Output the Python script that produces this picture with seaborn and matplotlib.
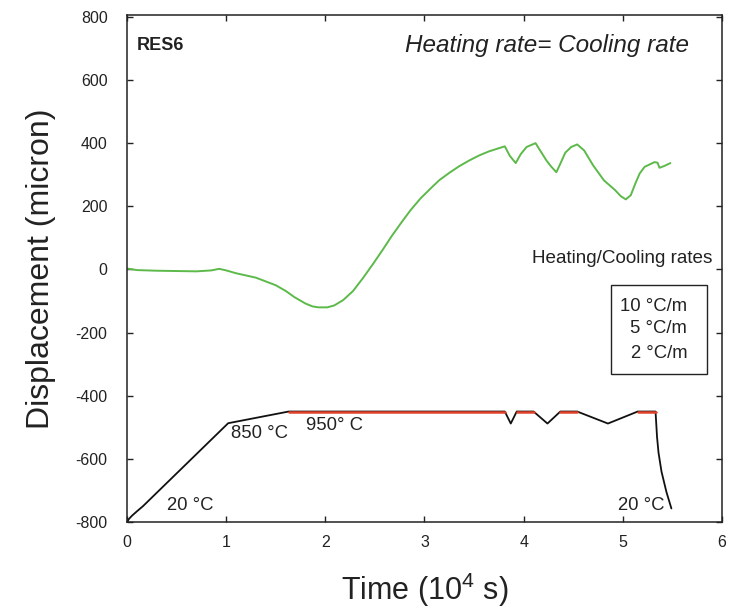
import matplotlib
matplotlib.use("Agg")
import matplotlib.pyplot as plt
import numpy as np
import pandas as pd
import seaborn as sns
from matplotlib.patches import Rectangle

# Measured displacement of sample RES6 (time in 1e4 s, displacement in micron)
time_disp = [0.00, 0.10, 0.30, 0.50, 0.70, 0.85, 0.93, 1.00, 1.10, 1.30,
             1.50, 1.60, 1.69, 1.80, 1.87, 1.93, 2.02, 2.09, 2.18, 2.28,
             2.38, 2.48, 2.58, 2.67, 2.77, 2.86, 2.96, 3.06, 3.15, 3.25,
             3.35, 3.45, 3.55, 3.65, 3.81, 3.86, 3.92, 3.97, 4.03, 4.12,
             4.17, 4.23, 4.28, 4.33, 4.37, 4.42, 4.48, 4.54, 4.61, 4.70,
             4.81, 4.92, 4.98, 5.03, 5.08, 5.13, 5.17, 5.22, 5.32, 5.35,
             5.37, 5.42, 5.48]
displacement = [3, -2, -4, -5, -6, -3, 2, -3, -12, -26,
                -50, -68, -88, -108, -117, -120, -120, -114, -97, -68,
                -27, 17, 63, 106, 150, 188, 225, 256, 283, 306,
                327, 345, 361, 374, 390, 360, 337, 365, 388, 400,
                375, 345, 325, 308, 335, 370, 388, 396, 377, 330,
                282, 252, 232, 222, 235, 275, 304, 325, 340, 338,
                322, 328, 337]

# Schematic temperature programme drawn on the same axis
time_prog = [0.00, 0.02, 0.05, 0.10, 0.16, 1.02, 1.63, 3.81, 3.87, 3.93,
             4.10, 4.24, 4.37, 4.54, 4.85, 5.15, 5.33, 5.345, 5.36, 5.39,
             5.44, 5.49]
prog_level = [-800, -790, -780, -766, -750, -487, -450, -450, -488, -450,
              -450, -488, -450, -450, -488, -450, -450, -530, -580, -640,
              -705, -757]

# Isothermal dwell segments at 950 C
dwell_start = [1.63, 3.93, 4.37, 5.15]
dwell_end = [3.81, 4.10, 4.54, 5.33]
dwell_level = -450

rate_labels = ["10 °C/m", "5 °C/m", "2 °C/m"]

sns.set_theme(style="ticks")
plt.rcParams["font.family"] = ["Liberation Sans", "DejaVu Sans"]
plt.rcParams["axes.unicode_minus"] = False
plt.rcParams["mathtext.fontset"] = "custom"
plt.rcParams["mathtext.rm"] = "Liberation Sans"

fig = plt.figure(figsize=(7.3, 6.12), dpi=100)
ax = fig.add_axes([0.174, 0.147, 0.815, 0.828])

df_disp = pd.DataFrame({"t": time_disp, "d": displacement})
sns.lineplot(data=df_disp, x="t", y="d", sort=False, estimator=None,
             color="#5cb94a", linewidth=1.4, ax=ax)

df_prog = pd.DataFrame({"t": time_prog, "d": prog_level})
sns.lineplot(data=df_prog, x="t", y="d", sort=False, estimator=None,
             color="#111111", linewidth=1.3, ax=ax)

seg_rows = []
for i, (s, e) in enumerate(zip(dwell_start, dwell_end)):
    seg_rows.append({"seg": i, "t": s, "d": dwell_level})
    seg_rows.append({"seg": i, "t": e, "d": dwell_level})
df_seg = pd.DataFrame(seg_rows)
sns.lineplot(data=df_seg, x="t", y="d", units="seg", estimator=None,
             color="#e2412b", linewidth=1.8, ax=ax)

ax.set_xlim(0, 6)
ax.set_ylim(-800, 805)
ax.set_xticks(range(0, 7))
ax.set_yticks(range(-800, 801, 200))
ax.tick_params(direction="in", length=4, width=1.0, top=True, right=True,
               labelsize=11.5, colors="#222222")
ax.tick_params(axis="y", pad=14)
ax.tick_params(axis="x", pad=9)
for sp in ax.spines.values():
    sp.set_visible(True)
    sp.set_color("#222222")
    sp.set_linewidth(1.1)

ax.set_xlabel(r"Time (10$^{\mathrm{4}}$ s)", fontsize=22, labelpad=15, color="#222222")
ax.set_ylabel("Displacement (micron)", fontsize=23, labelpad=14, color="#222222")

txt = dict(color="#222222")
ax.text(0.10, 710, "RES6", fontsize=13, fontweight="bold", va="center", ha="left", **txt)
ax.text(5.67, 710, "Heating rate= Cooling rate", fontsize=17.5, style="italic",
        va="center", ha="right", **txt)
ax.text(5.90, 35, "Heating/Cooling rates", fontsize=13.6, va="center", ha="right", **txt)

ax.text(1.05, -521, "850 °C", fontsize=13.3, va="center", ha="left", **txt)
ax.text(1.81, -494, "950° C", fontsize=13.3, va="center", ha="left", **txt)
ax.text(0.40, -748, "20 °C", fontsize=13.3, va="center", ha="left", **txt)
ax.text(4.95, -748, "20 °C", fontsize=13.3, va="center", ha="left", **txt)

ax.add_patch(Rectangle((4.88, -330), 0.965, 280, fill=False,
                       edgecolor="#222222", linewidth=1.0))
for lab, y in zip(rate_labels, [-118, -187, -266]):
    ax.text(5.65, y, lab, fontsize=13.3, va="center", ha="right", **txt)

fig.savefig("out.png", dpi=100)
